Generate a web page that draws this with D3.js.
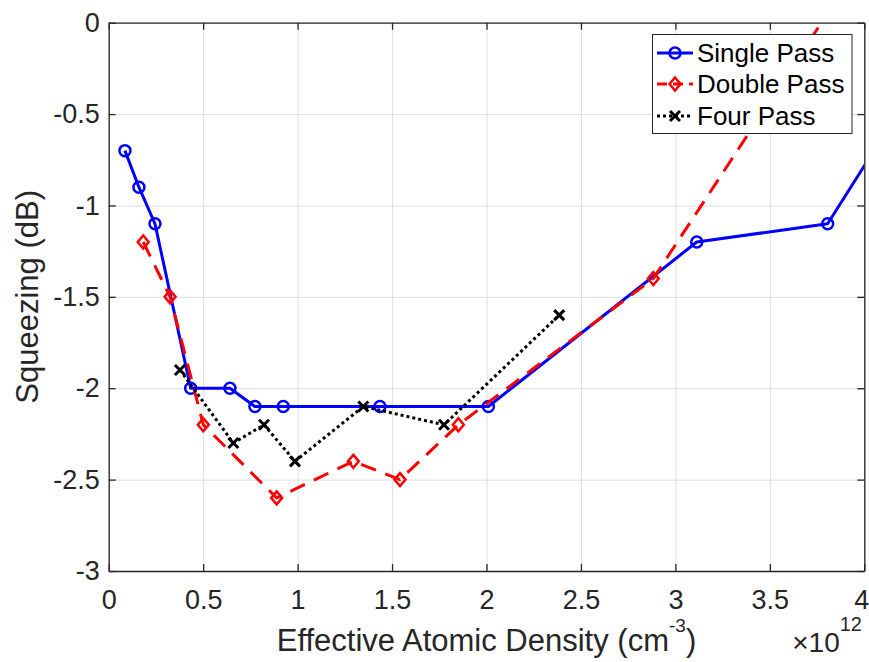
<!DOCTYPE html>
<html>
<head>
<meta charset="utf-8">
<script src="https://cdn.jsdelivr.net/npm/d3@7"></script>
<style>
  html, body { margin: 0; padding: 0; background: #fff; }
  svg { display: block; font-family: "Liberation Sans", Arial, Helvetica, sans-serif; }
</style>
</head>
<body>
<div id="chart"></div>
<script>
'use strict';

// values (x in units of 1e12 cm^-3, y in dB)
var seriesNames = ['Single Pass', 'Double Pass', 'Four Pass'];

var singleX = [0.086, 0.16, 0.245, 0.434, 0.642, 0.774, 0.924, 1.436, 2.01, 3.113, 3.806, 4.1];
var singleY = [-0.7, -0.9, -1.1, -2.0, -2.0, -2.1, -2.1, -2.1, -2.1, -1.2, -1.1, -0.62];

var doubleX = [0.183, 0.325, 0.501, 0.889, 1.295, 1.542, 1.851, 2.883, 3.9];
var doubleY = [-1.2, -1.5, -2.2, -2.6, -2.4, -2.5, -2.2, -1.4, 0.2];

var fourX = [0.377, 0.66, 0.822, 0.986, 1.348, 1.775, 2.385];
var fourY = [-1.9, -2.3, -2.2, -2.4, -2.1, -2.2, -1.6];

var xTicks = [0, 0.5, 1, 1.5, 2, 2.5, 3, 3.5, 4];
var xTickLabels = ['0', '0.5', '1', '1.5', '2', '2.5', '3', '3.5', '4'];
var yTicks = [-3, -2.5, -2, -1.5, -1, -0.5, 0];
var yTickLabels = ['-3', '-2.5', '-2', '-1.5', '-1', '-0.5', '0'];

(function () {

  var width = 869, height = 662;
  var plotLeft = 108.7, plotRight = 864.3, plotTop = 22.7, plotBottom = 571;

  var ink = '#262626';

  var x = d3.scaleLinear().domain([0, 4]).range([plotLeft, plotRight]);
  var y = d3.scaleLinear().domain([-3, 0]).range([plotBottom, plotTop]);

  var svg = d3.select('#chart')
              .append('svg')
              .attr('width', width)
              .attr('height', height);

  svg.append('defs')
     .append('clipPath')
     .attr('id', 'plotClip')
     .append('rect')
     .attr('x', plotLeft)
     .attr('y', plotTop)
     .attr('width', plotRight - plotLeft)
     .attr('height', plotBottom - plotTop);

  // grid
  svg.append('g')
     .attr('transform', 'translate(0,' + plotBottom + ')')
     .call(d3.axisBottom(x).tickValues(xTicks).tickSize(-(plotBottom - plotTop)).tickFormat(''))
     .call(function (g) {
       g.select('.domain').remove();
       g.selectAll('line').attr('stroke', '#dfdfdf').attr('stroke-width', 1);
     });
  svg.append('g')
     .attr('transform', 'translate(' + plotLeft + ',0)')
     .call(d3.axisLeft(y).tickValues(yTicks).tickSize(-(plotRight - plotLeft)).tickFormat(''))
     .call(function (g) {
       g.select('.domain').remove();
       g.selectAll('line').attr('stroke', '#dfdfdf').attr('stroke-width', 1);
     });

  // series
  var series = [
    { name: seriesNames[0], xs: singleX, ys: singleY, color: '#0000ff', dash: null, marker: 'circle' },
    { name: seriesNames[1], xs: doubleX, ys: doubleY, color: '#ff0000', dash: '16,10', marker: 'diamond' },
    { name: seriesNames[2], xs: fourX, ys: fourY, color: '#000000', dash: '3,3', marker: 'cross' }
  ];

  var line = d3.line()
               .x(function (d) { return x(d[0]); })
               .y(function (d) { return y(d[1]); });

  function markerPath(type) {
    if (type === 'diamond') return 'M0,-6.5L5.5,0L0,6.5L-5.5,0Z';
    if (type === 'cross') return 'M-5,-5L5,5M-5,5L5,-5';
    return 'M5.5,0A5.5,5.5 0 1,1 -5.5,0A5.5,5.5 0 1,1 5.5,0Z';
  }

  var plot = svg.append('g').attr('clip-path', 'url(#plotClip)');

  series.forEach(function (s) {
    var pts = s.xs.map(function (v, i) { return [v, s.ys[i]]; });
    plot.append('path')
        .datum(pts)
        .attr('d', line)
        .attr('fill', 'none')
        .attr('stroke', s.color)
        .attr('stroke-width', 3)
        .attr('stroke-dasharray', s.dash)
        .attr('stroke-linejoin', 'round');
    plot.selectAll(null)
        .data(pts)
        .enter()
        .append('path')
        .attr('transform', function (d) { return 'translate(' + x(d[0]) + ',' + y(d[1]) + ')'; })
        .attr('d', markerPath(s.marker))
        .attr('fill', 'none')
        .attr('stroke', s.color)
        .attr('stroke-width', s.marker === 'cross' ? 3 : 2.5);
  });

  // axes (ticks point inwards, box on)
  function styleAxis(g) {
    g.select('.domain').attr('stroke', ink).attr('stroke-width', 1.3);
    g.selectAll('.tick line').attr('stroke', ink).attr('stroke-width', 1.3);
    g.selectAll('.tick text').attr('fill', ink).style('font-size', '27px')
     .style('font-family', '"Liberation Sans", Arial, Helvetica, sans-serif');
  }

  svg.append('g')
     .attr('transform', 'translate(0,' + plotBottom + ')')
     .call(d3.axisBottom(x).tickValues(xTicks).tickSizeInner(-7).tickSizeOuter(0).tickPadding(19)
             .tickFormat(function (d, i) { return xTickLabels[i]; }))
     .call(styleAxis)
     .call(function (g) {
       // keep the last label inside the page
       g.selectAll('.tick text').filter(function (d) { return d === 4; }).attr('dx', -3);
     });
  svg.append('g')
     .attr('transform', 'translate(0,' + plotTop + ')')
     .call(d3.axisTop(x).tickValues(xTicks).tickSizeInner(-7).tickSizeOuter(0).tickFormat(''))
     .call(styleAxis);
  svg.append('g')
     .attr('transform', 'translate(' + plotLeft + ',0)')
     .call(d3.axisLeft(y).tickValues(yTicks).tickSizeInner(-7).tickSizeOuter(0).tickPadding(9)
             .tickFormat(function (d, i) { return yTickLabels[i]; }))
     .call(styleAxis);
  svg.append('g')
     .attr('transform', 'translate(' + plotRight + ',0)')
     .call(d3.axisRight(y).tickValues(yTicks).tickSizeInner(-7).tickSizeOuter(0).tickFormat(''))
     .call(styleAxis);

  // axis labels
  var xl = svg.append('text')
              .attr('x', (plotLeft + plotRight) / 2)
              .attr('y', 651)
              .attr('text-anchor', 'middle')
              .attr('fill', ink)
              .style('font-size', '31px');
  xl.append('tspan').text('Effective Atomic Density (cm');
  xl.append('tspan').attr('dy', -19).style('font-size', '19px').text('-3');
  xl.append('tspan').attr('dy', 19).text(')');

  svg.append('text')
     .attr('transform', 'translate(38,' + ((plotTop + plotBottom) / 2) + ') rotate(-90)')
     .attr('text-anchor', 'middle')
     .attr('fill', ink)
     .style('font-size', '31px')
     .text('Squeezing (dB)');

  var ex = svg.append('text')
              .attr('x', 862)
              .attr('y', 652)
              .attr('text-anchor', 'end')
              .attr('fill', ink)
              .style('font-size', '28px');
  ex.append('tspan').text('\u00d710');
  ex.append('tspan').attr('dy', -21).style('font-size', '20px').text('12');

  // legend
  var legend = svg.append('g');
  legend.append('rect')
        .attr('x', 652.5)
        .attr('y', 34.5)
        .attr('width', 199.5)
        .attr('height', 99)
        .attr('fill', '#fff')
        .attr('stroke', ink)
        .attr('stroke-width', 1);

  var rowY = [53, 84, 116];
  series.forEach(function (s, i) {
    var row = legend.append('g');
    row.append('line')
       .attr('x1', 657).attr('x2', 693)
       .attr('y1', rowY[i]).attr('y2', rowY[i])
       .attr('stroke', s.color)
       .attr('stroke-width', 3)
       .attr('stroke-dasharray', s.marker === 'diamond' ? '10,6' : s.dash);
    row.append('path')
       .attr('transform', 'translate(675,' + rowY[i] + ')')
       .attr('d', markerPath(s.marker))
       .attr('fill', 'none')
       .attr('stroke', s.color)
       .attr('stroke-width', s.marker === 'cross' ? 3 : 2.5);
    row.append('text')
       .attr('x', 697)
       .attr('y', rowY[i] + 9)
       .attr('fill', '#000')
       .style('font-size', '26px')
       .text(s.name);
  });

})();
</script>
</body>
</html>
